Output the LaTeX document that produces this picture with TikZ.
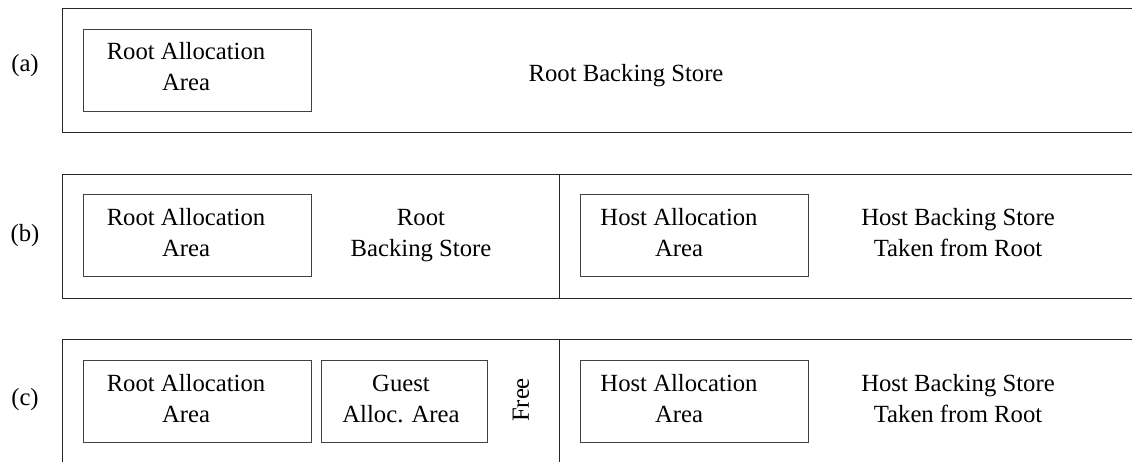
\documentclass[tikz,border=0pt]{standalone}
\usepackage{fontspec}
\setmainfont{Liberation Serif}
\usetikzlibrary{positioning}

\begin{document}
\begin{tikzpicture}[x=1pt,y=-1pt,
  storebox/.style={draw=black!85,line width=0.9pt},
  areabox/.style={draw=black!75,line width=0.8pt,minimum width=228pt,minimum height=82pt,inner sep=0pt},
  txt/.style={align=center,font=\fontsize{24.7}{31}\selectfont,inner sep=0pt}]
  \useasboundingbox (0,0) rectangle (1132,462);
  \clip (0,0) rectangle (1132,462);
  % (a) single root store
  \draw[storebox] (62,8) rectangle (1150,132);
  \node[txt] (la) at (25,66) {(a)};
  \node[areabox] (rootA) at (197,70) {};
  \node[txt] (rootAtxt) at (186,67) {Root Allocation\\Area};
  \node[txt] (storeA) at (626,76) {Root Backing Store};
  % (b) host store taken from root
  \draw[storebox] (62,174) rectangle (1150,298);
  \draw[storebox] (559,174) -- (559,298);
  \node[txt] (lb) at (25,236) {(b)};
  \node[areabox] (rootB) at (197,235.5) {};
  \node[txt] (rootBtxt) at (186,233) {Root Allocation\\Area};
  \node[txt] (storeB) at (421,236) {Root\\Backing Store};
  \node[areabox] (hostB) at (694,235.5) {};
  \node[txt] (hostBtxt) at (679,233) {Host Allocation\\Area};
  \node[txt] (hstoreB) at (958,232.5) {Host Backing Store\\Taken from Root};
  % (c) guest area inside root store
  \draw[storebox] (62,339) rectangle (1150,490);
  \draw[storebox] (559,339) -- (559,490);
  \node[txt] (lc) at (25,400) {(c)};
  \node[areabox] (rootC) at (197,401.5) {};
  \node[txt] (rootCtxt) at (186,399) {Root Allocation\\Area};
  \node[areabox,minimum width=166pt] (guestC) at (404,401.5) {};
  \node[txt] (guestCtxt) at (401,399) {Guest\\Alloc. Area};
  \node[txt,rotate=90] (freeC) at (521,400) {Free};
  \node[areabox] (hostC) at (694,401.5) {};
  \node[txt] (hostCtxt) at (679,399) {Host Allocation\\Area};
  \node[txt] (hstoreC) at (958,398.5) {Host Backing Store\\Taken from Root};
\end{tikzpicture}
\end{document}
